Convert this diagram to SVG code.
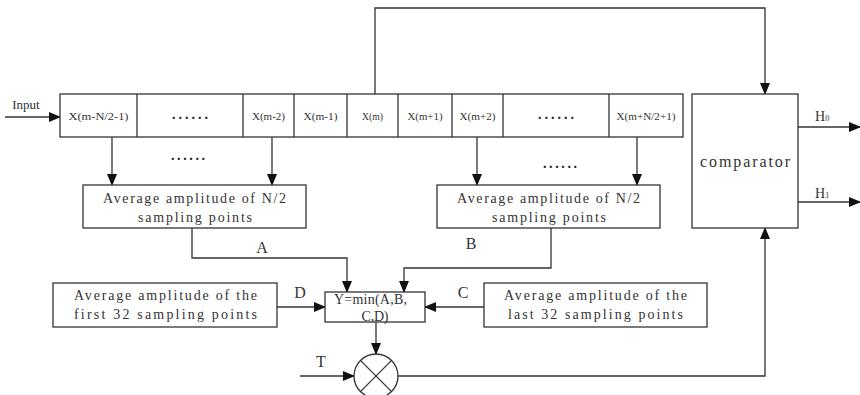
<svg xmlns="http://www.w3.org/2000/svg" width="860" height="395" viewBox="0 0 860 395">
<style>
.b{fill:#fff;stroke:#333;stroke-width:1.3}
.c{fill:none;stroke:#333;stroke-width:1.3}
.t{font-family:"Liberation Serif",serif;fill:#333;text-anchor:middle}
.s{font-size:11px}
.m{font-size:14px}
.l{font-size:16px}
.d{font-family:"Liberation Serif",serif;font-size:14px;font-weight:bold;fill:#222;text-anchor:middle}
</style>
<defs>
<marker id="ar" markerWidth="12" markerHeight="10" refX="11" refY="5" orient="auto" markerUnits="userSpaceOnUse">
<path d="M0,0 L12,5 L0,10 Z" fill="#111"/>
</marker>
</defs>
<g id="connectors" class="c">
<line x1="5" y1="117" x2="60" y2="117" marker-end="url(#ar)"/>
<polyline points="375,94 375,8 765,8 765,94" marker-end="url(#ar)"/>
<line x1="112" y1="137" x2="112" y2="185" marker-end="url(#ar)"/>
<line x1="272" y1="137" x2="272" y2="185" marker-end="url(#ar)"/>
<line x1="477" y1="137" x2="477" y2="185" marker-end="url(#ar)"/>
<line x1="637" y1="137" x2="637" y2="185" marker-end="url(#ar)"/>
<polyline points="192,228 192,258 347,258 347,292" marker-end="url(#ar)"/>
<polyline points="551,228 551,268 404,268 404,292" marker-end="url(#ar)"/>
<line x1="277" y1="307" x2="325" y2="307" marker-end="url(#ar)"/>
<line x1="484" y1="307" x2="425" y2="307" marker-end="url(#ar)"/>
<line x1="376" y1="322" x2="376" y2="354" marker-end="url(#ar)"/>
<line x1="300" y1="376" x2="354" y2="376" marker-end="url(#ar)"/>
<polyline points="398,376 765,376 765,228" marker-end="url(#ar)"/>
<line x1="798" y1="127" x2="860" y2="127" marker-end="url(#ar)"/>
<line x1="798" y1="202" x2="860" y2="202" marker-end="url(#ar)"/>
</g>
<g id="labels">
<text x="26" y="109" font-family="Liberation Serif,serif" font-size="13" fill="#333" text-anchor="middle">Input</text>
<text class="t l" x="262" y="253">A</text>
<text class="t l" x="471" y="249">B</text>
<text class="t l" x="300" y="298">D</text>
<text class="t l" x="463" y="298">C</text>
<text class="t l" x="321" y="367">T</text>
<text x="815" y="121" font-family="Liberation Serif,serif" font-size="14" fill="#333">H<tspan font-size="8">0</tspan></text>
<text x="815" y="198" font-family="Liberation Serif,serif" font-size="14" fill="#333">H<tspan font-size="8">1</tspan></text>
<text class="d" x="188" y="160" textLength="34" lengthAdjust="spacing">......</text>
<text class="d" x="560" y="168" textLength="34" lengthAdjust="spacing">......</text>
</g>
<g id="buffer">
<rect class="b" x="60" y="94" width="623" height="43"/>
<line class="c" x1="137" y1="94" x2="137" y2="137"/>
<line class="c" x1="243" y1="94" x2="243" y2="137"/>
<line class="c" x1="294" y1="94" x2="294" y2="137"/>
<line class="c" x1="347" y1="94" x2="347" y2="137"/>
<line class="c" x1="398" y1="94" x2="398" y2="137"/>
<line class="c" x1="452" y1="94" x2="452" y2="137"/>
<line class="c" x1="503" y1="94" x2="503" y2="137"/>
<line class="c" x1="609" y1="94" x2="609" y2="137"/>
<text class="t s" x="98.5" y="120" textLength="60" lengthAdjust="spacingAndGlyphs">X(m-N/2-1)</text>
<text class="d" x="190" y="119" textLength="36" lengthAdjust="spacing">......</text>
<text class="t s" x="268.5" y="120" textLength="33" lengthAdjust="spacingAndGlyphs">X(m-2)</text>
<text class="t s" x="320.5" y="120" textLength="34" lengthAdjust="spacingAndGlyphs">X(m-1)</text>
<text class="t s" x="372.5" y="120" textLength="21" lengthAdjust="spacingAndGlyphs">X(m)</text>
<text class="t s" x="425" y="120" textLength="35" lengthAdjust="spacingAndGlyphs">X(m+1)</text>
<text class="t s" x="477.5" y="120" textLength="36" lengthAdjust="spacingAndGlyphs">X(m+2)</text>
<text class="d" x="556" y="119" textLength="36" lengthAdjust="spacing">......</text>
<text class="t s" x="646" y="120" textLength="59" lengthAdjust="spacingAndGlyphs">X(m+N/2+1)</text>
</g>
<g id="avgA">
<rect class="b" x="83" y="185" width="223" height="43"/>
<text class="t m" x="194.5" y="203" textLength="183" lengthAdjust="spacing">Average amplitude of N/2</text>
<text class="t m" x="195" y="222" textLength="114" lengthAdjust="spacing">sampling points</text>
</g>
<g id="avgB">
<rect class="b" x="437" y="185" width="223" height="43"/>
<text class="t m" x="548.5" y="203" textLength="183" lengthAdjust="spacing">Average amplitude of N/2</text>
<text class="t m" x="549" y="222" textLength="114" lengthAdjust="spacing">sampling points</text>
</g>
<g id="avgD">
<rect class="b" x="53" y="283" width="224" height="44"/>
<text class="t m" x="165.5" y="300" textLength="183" lengthAdjust="spacing">Average amplitude of the</text>
<text class="t m" x="165.5" y="319" textLength="183" lengthAdjust="spacing">first 32 sampling points</text>
</g>
<g id="avgC">
<rect class="b" x="484" y="283" width="223" height="44"/>
<text class="t m" x="595.5" y="300" textLength="183" lengthAdjust="spacing">Average amplitude of the</text>
<text class="t m" x="595.5" y="319" textLength="175" lengthAdjust="spacing">last 32 sampling points</text>
</g>
<g id="min">
<rect class="b" x="325" y="292" width="100" height="30"/>
<text class="t m" x="370.5" y="304" textLength="73" lengthAdjust="spacing">Y=min(A,B,</text>
<text class="t m" x="375" y="321" textLength="27" lengthAdjust="spacing">C,D)</text>
</g>
<g id="multiplier">
<circle class="b" cx="376" cy="376" r="22"/>
<line class="c" x1="360.4" y1="360.4" x2="391.6" y2="391.6"/>
<line class="c" x1="391.6" y1="360.4" x2="360.4" y2="391.6"/>
</g>
<g id="comparator">
<rect class="b" x="692" y="94" width="106" height="134"/>
<text class="t" x="745" y="167" font-size="16" textLength="90" lengthAdjust="spacing">comparator</text>
</g>
</svg>
